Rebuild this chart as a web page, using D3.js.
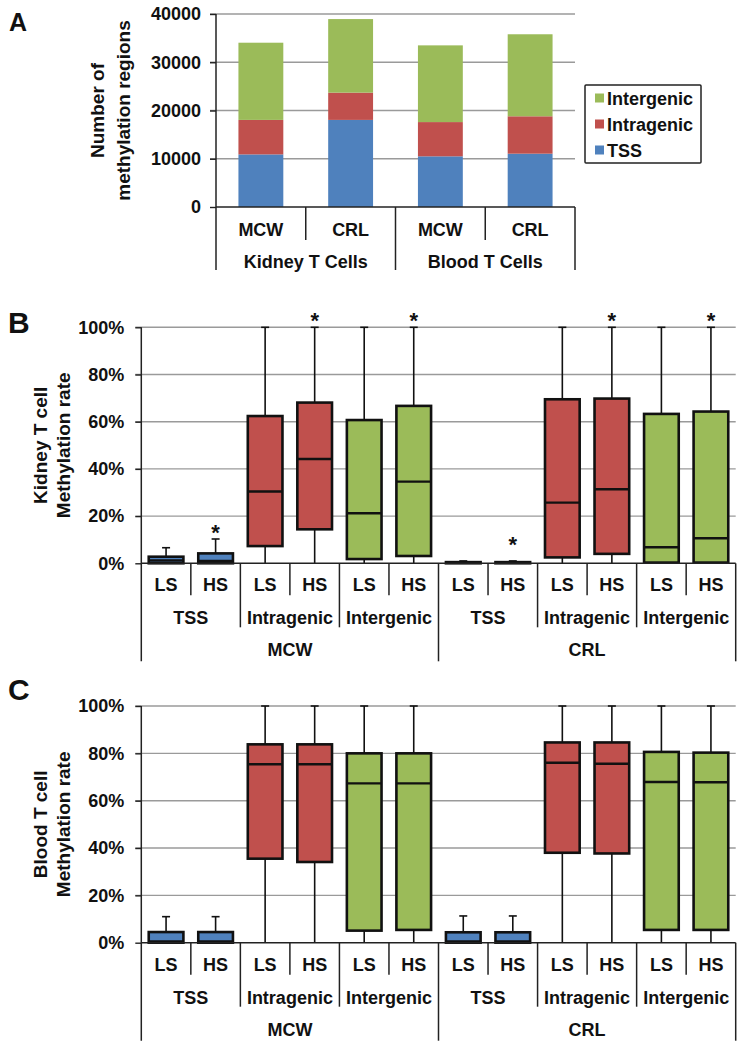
<!DOCTYPE html>
<html>
<head>
<meta charset="utf-8">
<script src="https://cdn.jsdelivr.net/npm/d3@7"></script>
<style>
  html, body { margin: 0; padding: 0; background: #fff; }
  svg { display: block; }
  text { font-family: "Liberation Sans", Arial, Helvetica, sans-serif; font-weight: bold; fill: #111; }
</style>
</head>
<body>
<svg id="chart" width="746" height="1050"></svg>
<script>
// ---------- Panel A data ----------
const aSites = ["MCW", "CRL", "MCW", "CRL"];
const aTissues = ["Kidney T Cells", "Blood T Cells"];
const aSeries = ["TSS", "Intragenic", "Intergenic"];
const tssCounts = [10900, 18050, 10500, 11050];
const intragenicCounts = [7150, 5650, 7100, 7750];
const intergenicCounts = [16000, 15250, 15900, 17000];
const aTicks = [0, 10000, 20000, 30000, 40000];

// ---------- Panel B/C data ----------
const boxDiet = ["LS", "HS", "LS", "HS", "LS", "HS", "LS", "HS", "LS", "HS", "LS", "HS"];
const boxRegion = ["TSS", "Intragenic", "Intergenic", "TSS", "Intragenic", "Intergenic"];
const boxSite = ["MCW", "CRL"];
const pctTicks = [0, 20, 40, 60, 80, 100];
// each box: [low whisker, Q1, median, Q3, high whisker] in %
const kidneyBoxes = [
  [0, 0, 1.2, 2.8, 6.6], [0, 0, 1.0, 4.2, 10.3],
  [0, 7.3, 30.4, 62.4, 100], [0, 14.4, 44.2, 68.1, 100],
  [0, 1.8, 21.2, 60.7, 100], [0, 3.1, 34.6, 66.7, 100],
  [0, 0, 0.2, 0.5, 1.0], [0, 0, 0.2, 0.5, 1.0],
  [0, 2.5, 25.7, 69.5, 100], [0, 4.0, 31.4, 69.8, 100],
  [0, 0.3, 6.8, 63.3, 100], [0, 0.3, 10.6, 64.3, 100]
];
const kidneyStars = [0, 1, 0, 1, 0, 1, 0, 1, 0, 1, 0, 1];
const bloodBoxes = [
  [0, 0, 0.5, 4.5, 11], [0, 0, 0.5, 4.5, 11],
  [0, 35.5, 75.4, 83.8, 100], [0, 34.1, 75.4, 83.8, 100],
  [0, 5.1, 67.3, 80.0, 100], [0, 5.4, 67.3, 80.0, 100],
  [0, 0, 0.5, 4.4, 11.3], [0, 0, 0.5, 4.4, 11.3],
  [0, 38.0, 76.0, 84.6, 100], [0, 37.7, 75.6, 84.6, 100],
  [0, 5.4, 67.9, 80.6, 100], [0, 5.4, 67.8, 80.3, 100]
];
const bloodStars = [0, 0, 0, 0, 0, 0, 0, 0, 0, 0, 0, 0];

const colors = { "TSS": "#4f81bd", "Intragenic": "#c0504d", "Intergenic": "#9bbb59" };
const gridColor = "#9a9a9a";
const axisColor = "#222";
const FS = 18, TFS = 19;
const svg = d3.select("#chart");

// ================= Panel A =================
(function () {
  const x0 = 216, x1 = 575, yTop = 14, yBot = 207;
  const y = d3.scaleLinear().domain([0, 40000]).range([yBot, yTop]);
  const x = d3.scaleBand().domain(d3.range(aSites.length)).range([x0, x1])
    .paddingInner(0.5).paddingOuter(0.25);
  const g = svg.append("g");

  g.selectAll("line.grid").data(aTicks.filter(t => t > 0)).join("line")
    .attr("x1", x0 - 6).attr("x2", x1).attr("y1", d => y(d)).attr("y2", d => y(d))
    .attr("stroke", gridColor).attr("stroke-width", 1.4);
  const yAxis = d3.axisLeft(y).tickValues(aTicks).tickSize(6).tickFormat(d3.format("d"));
  const ya = g.append("g").attr("transform", `translate(${x0},0)`).call(yAxis);
  ya.select(".domain").remove();
  ya.selectAll(".tick line").attr("stroke", axisColor).attr("stroke-width", 1.4);
  ya.selectAll(".tick text").attr("font-size", FS).attr("font-weight", "bold")
    .attr("fill", "#111").attr("x", -15).style("font-family", "Liberation Sans, Arial, sans-serif");

  const rows = aSites.map((s, i) => ({ i, TSS: tssCounts[i], Intragenic: intragenicCounts[i], Intergenic: intergenicCounts[i] }));
  const stack = d3.stack().keys(aSeries)(rows);
  stack.forEach(layer => {
    g.append("g").selectAll("rect").data(layer).join("rect")
      .attr("x", d => x(d.data.i)).attr("width", x.bandwidth())
      .attr("y", d => y(d[1])).attr("height", d => y(d[0]) - y(d[1]))
      .attr("fill", colors[layer.key]);
  });

  g.append("line").attr("x1", x0).attr("x2", x0).attr("y1", yTop).attr("y2", 270)
    .attr("stroke", axisColor).attr("stroke-width", 1.5);
  g.append("line").attr("x1", x0).attr("x2", x1).attr("y1", yBot).attr("y2", yBot)
    .attr("stroke", axisColor).attr("stroke-width", 1.5);
  const step = x.step();
  [1, 3].forEach(k => {
    g.append("line").attr("x1", x0 + k * step).attr("x2", x0 + k * step).attr("y1", yBot).attr("y2", 240)
      .attr("stroke", axisColor).attr("stroke-width", 1.5);
  });
  [2, 4].forEach(k => {
    g.append("line").attr("x1", x0 + k * step).attr("x2", x0 + k * step).attr("y1", yBot).attr("y2", 270)
      .attr("stroke", axisColor).attr("stroke-width", 1.5);
  });
  g.selectAll("text.site").data(aSites).join("text")
    .attr("x", (d, i) => x(i) + x.bandwidth() / 2).attr("y", 236)
    .attr("text-anchor", "middle").attr("font-size", FS).text(d => d);
  g.selectAll("text.tissue").data(aTissues).join("text")
    .attr("x", (d, i) => x0 + (i * 2 + 1) * step).attr("y", 268)
    .attr("text-anchor", "middle").attr("font-size", FS).text(d => d);

  const tg = g.append("g").attr("transform", `translate(110,${(yTop + yBot) / 2}) rotate(-90)`);
  tg.append("text").attr("text-anchor", "middle").attr("y", -6).attr("font-size", TFS).text("Number of");
  tg.append("text").attr("text-anchor", "middle").attr("y", 20).attr("font-size", TFS).text("methylation regions");

  const lg = g.append("g");
  lg.append("rect").attr("x", 585).attr("y", 85).attr("width", 116).attr("height", 78)
    .attr("fill", "#fff").attr("stroke", "#222").attr("stroke-width", 1.5).attr("rx", 1);
  const legendItems = aSeries.slice().reverse();
  legendItems.forEach((k, i) => {
    const cy = 98 + i * 26;
    lg.append("rect").attr("x", 595).attr("y", cy - 4.5).attr("width", 9).attr("height", 9).attr("fill", colors[k]);
    lg.append("text").attr("x", 607).attr("y", cy + 6.5).attr("font-size", FS).text(k);
  });

  g.append("text").attr("x", 9).attr("y", 31).attr("font-size", 25).text("A");
})();

// ================= Box panels =================
function boxPanel(cfg) {
  const x0 = 141.3, x1 = 735.7;
  const { yTop, yBot, boxes, stars, letter, title, letterY } = cfg;
  const g = svg.append("g");
  const y = d3.scaleLinear().domain([0, 100]).range([yBot, yTop]);
  const x = d3.scaleBand().domain(d3.range(boxes.length)).range([x0, x1])
    .paddingInner(0.3).paddingOuter(0.15);
  const step = x.step();

  g.selectAll("line.grid").data(pctTicks.filter(t => t > 0)).join("line")
    .attr("x1", x0 - 6).attr("x2", x1).attr("y1", d => y(d)).attr("y2", d => y(d))
    .attr("stroke", gridColor).attr("stroke-width", 1.4);
  const yAxis = d3.axisLeft(y).tickValues(pctTicks).tickSize(6).tickFormat(d => d + "%");
  const ya = g.append("g").attr("transform", `translate(${x0},0)`).call(yAxis);
  ya.select(".domain").remove();
  ya.selectAll(".tick line").attr("stroke", axisColor).attr("stroke-width", 1.4);
  ya.selectAll(".tick text").attr("font-size", FS).attr("font-weight", "bold")
    .attr("fill", "#111").attr("x", -17).style("font-family", "Liberation Sans, Arial, sans-serif");

  const capW = 8;
  boxes.forEach((b, i) => {
    const [lo, q1, med, q3, hi] = b;
    const cx = x(i) + x.bandwidth() / 2;
    const region = boxRegion[Math.floor(i / 2)];
    g.append("line").attr("x1", cx).attr("x2", cx).attr("y1", y(q3)).attr("y2", y(hi))
      .attr("stroke", "#111").attr("stroke-width", 1.6);
    g.append("line").attr("x1", cx).attr("x2", cx).attr("y1", y(q1)).attr("y2", y(lo))
      .attr("stroke", "#111").attr("stroke-width", 1.6);
    g.append("line").attr("x1", cx - capW / 2).attr("x2", cx + capW / 2).attr("y1", y(hi)).attr("y2", y(hi))
      .attr("stroke", "#111").attr("stroke-width", 1.6);
    g.append("rect").attr("x", x(i)).attr("width", x.bandwidth())
      .attr("y", y(q3)).attr("height", Math.max(0.5, y(q1) - y(q3)))
      .attr("fill", colors[region]).attr("stroke", "#111").attr("stroke-width", 2.6);
    g.append("line").attr("x1", x(i)).attr("x2", x(i) + x.bandwidth()).attr("y1", y(med)).attr("y2", y(med))
      .attr("stroke", "#111").attr("stroke-width", 2.4);
    if (stars[i]) {
      const sy = Math.min(y(hi) - 12, yBot - 24);
      g.append("text").attr("x", cx).attr("y", sy + 13).attr("text-anchor", "middle")
        .attr("font-size", 22).attr("font-weight", "normal").text("*");
    }
  });

  const bottomEnd = yBot + 98;
  g.append("line").attr("x1", x0).attr("x2", x0).attr("y1", yTop).attr("y2", bottomEnd)
    .attr("stroke", axisColor).attr("stroke-width", 1.5);
  g.append("line").attr("x1", x0).attr("x2", x1).attr("y1", yBot).attr("y2", yBot)
    .attr("stroke", axisColor).attr("stroke-width", 1.5);
  for (let k = 1; k <= boxes.length; k++) {
    let end;
    if (k % 6 === 0) end = bottomEnd;
    else if (k % 2 === 0) end = yBot + 64;
    else end = yBot + 32;
    g.append("line").attr("x1", x0 + k * step).attr("x2", x0 + k * step).attr("y1", yBot).attr("y2", end)
      .attr("stroke", axisColor).attr("stroke-width", 1.5);
  }
  g.selectAll("text.diet").data(boxDiet).join("text")
    .attr("x", (d, i) => x(i) + x.bandwidth() / 2).attr("y", yBot + 28)
    .attr("text-anchor", "middle").attr("font-size", FS).text(d => d);
  g.selectAll("text.region").data(boxRegion).join("text")
    .attr("x", (d, i) => x0 + (i * 2 + 1) * step).attr("y", yBot + 61)
    .attr("text-anchor", "middle").attr("font-size", FS).text(d => d);
  g.selectAll("text.site").data(boxSite).join("text")
    .attr("x", (d, i) => x0 + (i * 6 + 3) * step).attr("y", yBot + 93)
    .attr("text-anchor", "middle").attr("font-size", FS).text(d => d);

  const tg = g.append("g").attr("transform", `translate(51.5,${(yTop + yBot) / 2}) rotate(-90)`);
  tg.append("text").attr("text-anchor", "middle").attr("y", -5).attr("font-size", TFS).text(title[0]);
  tg.append("text").attr("text-anchor", "middle").attr("y", 18).attr("font-size", TFS).text(title[1]);

  g.append("text").attr("x", 8).attr("y", letterY).attr("font-size", 30).text(letter);
}

boxPanel({ yTop: 327.3, yBot: 563.3, boxes: kidneyBoxes, stars: kidneyStars, letter: "B",
  title: ["Kidney T cell", "Methylation rate"], letterY: 333 });
boxPanel({ yTop: 706, yBot: 942.7, boxes: bloodBoxes, stars: bloodStars, letter: "C",
  title: ["Blood T cell", "Methylation rate"], letterY: 700 });
</script>
</body>
</html>
